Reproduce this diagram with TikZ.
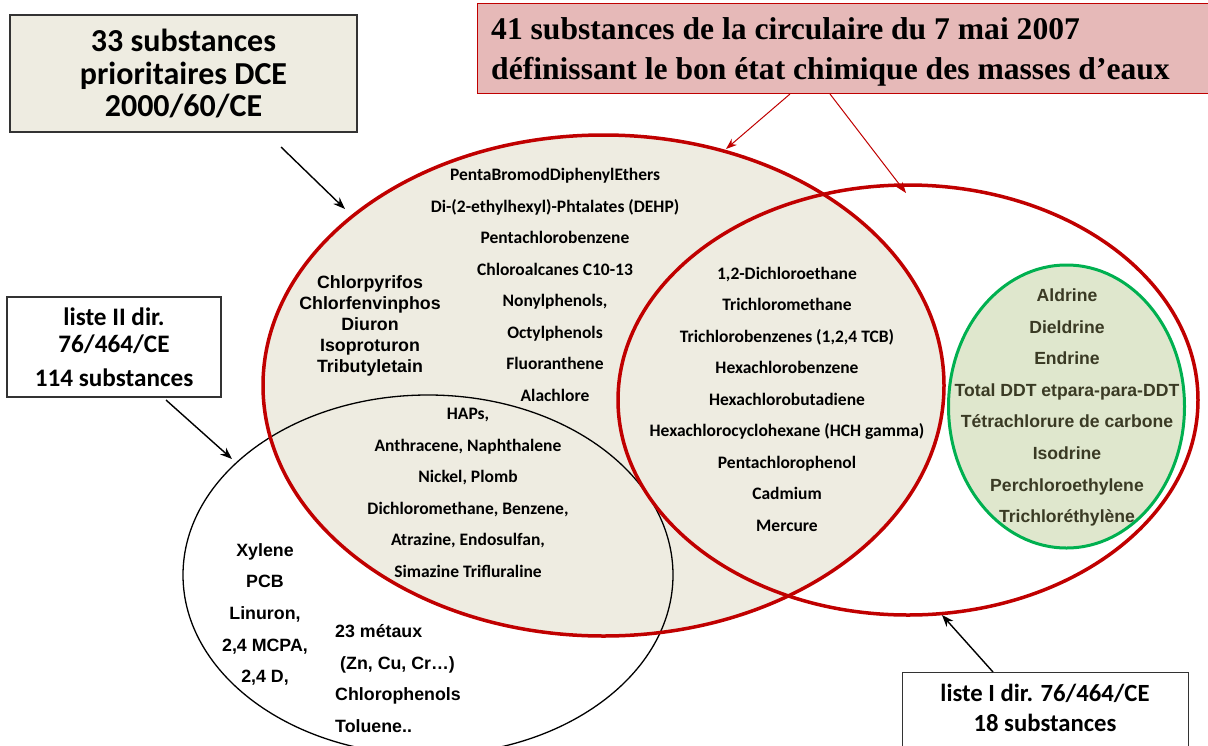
\documentclass[tikz,border=0pt]{standalone}
\usepackage{fontspec}
\setmainfont{Carlito}
\newfontfamily\arialf{Liberation Sans}
\newfontfamily\timesf{Liberation Serif}
\usetikzlibrary{arrows.meta}
\definecolor{beige}{HTML}{EEECE1}
\definecolor{dred}{HTML}{C00000}
\definecolor{pinkf}{HTML}{E6B9B8}
\definecolor{gfill}{HTML}{DFE7CD}
\definecolor{gline}{HTML}{00B050}
\definecolor{gtext}{HTML}{3A3A24}
\tikzset{
  calib/.style={font=\bfseries\fontsize{17.5}{31.5}\selectfont, align=center, inner sep=0pt},
  arialb/.style={font=\arialf\bfseries\fontsize{17.8}{31.7}\selectfont, align=center, inner sep=0pt},
  labelbox/.style={draw=black!80, line width=1.3pt, inner sep=0pt, align=center},
  blackarrow/.style={draw=black, line width=1.4pt, -{Stealth[length=12pt,width=9pt]}},
  redarrow/.style={draw=dred, line width=1pt, -{Stealth[length=11pt,width=8pt]}},
  redring/.style={draw=dred, line width=3.5pt},
}
\begin{document}
\begin{tikzpicture}[x=1pt,y=-1pt]
\useasboundingbox (0,0) rectangle (1208,745);
\fill[white] (0,0) rectangle (1208,745);
% sets
\fill[beige] (603.5,385.5) ellipse [x radius=340.5pt, y radius=250.5pt];
\draw[black, line width=1.3pt] (428,575) ellipse [x radius=245pt, y radius=180pt];
\draw[redring] (603.5,385.5) ellipse [x radius=340.5pt, y radius=250.5pt];
\draw[redring] (908,400) ellipse [x radius=290pt, y radius=215pt];
\filldraw[fill=gfill, draw=gline, line width=3pt] (1066.5,406.5) ellipse [x radius=118pt, y radius=141.5pt];

% boxes
\node[labelbox, fill=beige, minimum width=347pt, minimum height=117pt,
      font=\bfseries\fontsize{32}{32.5}\selectfont] (dce) at (183.5,73.5)
      {33 substances\\prioritaires DCE\\2000/60/CE};
\node[draw=dred, line width=1.3pt, fill=pinkf, minimum width=740pt, minimum height=90pt, inner sep=0pt, anchor=north west] (circ) at (477,3) {};
\node[font=\timesf\bfseries\fontsize{31.6}{39.5}\selectfont, align=left, inner sep=0pt, anchor=west] (circtxt) at (491,52)
      {41 substances de la circulaire du 7 mai 2007\\d\'efinissant le bon \'etat chimique des masses d’eaux};
\node[labelbox, fill=white, minimum width=214pt, minimum height=100pt,
      font=\bfseries\fontsize{25.2}{27}\selectfont] (l2) at (114,347)
      {liste II dir.\\76/464/CE\\[7pt]114 substances};
\node[labelbox, fill=white, minimum width=286pt, minimum height=75pt, anchor=north west] (l1) at (902,672)
      {};
\node[font=\bfseries\fontsize{24.7}{30}\selectfont, align=center, inner sep=0pt] (l1txt) at (1045,708)
      {liste I dir. 76/464/CE\\18 substances};

% text lists
\node[calib] (dcelist) at (555,285)
  {PentaBromodDiphenylEthers\\Di-(2-ethylhexyl)-Phtalates (DEHP)\\Pentachlorobenzene\\Chloroalcanes C10-13\\Nonylphenols,\\Octylphenols\\Fluoranthene\\Alachlore};
\node[arialb, font=\arialf\bfseries\fontsize{17.8}{21}\selectfont] (pest) at (370,326)
  {Chlorpyrifos\\Chlorfenvinphos\\Diuron\\Isoproturon\\Tributyletain};
\node[calib] (common) at (787,399)
  {1,2-Dichloroethane\\Trichloromethane\\Trichlorobenzenes (1,2,4 TCB)\\Hexachlorobenzene\\Hexachlorobutadiene\\Hexachlorocyclohexane (HCH gamma)\\Pentachlorophenol\\Cadmium\\Mercure};
\node[arialb, text=gtext, font=\arialf\bfseries\fontsize{17.6}{31.6}\selectfont] (green) at (1067,407.5)
  {Aldrine\\Dieldrine\\Endrine\\Total DDT etpara-para-DDT\\T\'etrachlorure de carbone\\Isodrine\\Perchloroethylene\\Trichlor\'ethyl\`ene};
\node[calib] (haps) at (468,493)
  {HAPs,\\Anthracene, Naphthalene\\Nickel, Plomb\\Dichloromethane, Benzene,\\Atrazine, Endosulfan,\\Simazine Trifluraline};
\node[arialb] (xyl) at (265,614.5)
  {Xylene\\PCB\\Linuron,\\2,4 MCPA,\\2,4 D,};
\node[arialb, align=left, anchor=west] (met) at (335,678.5)
  {23 m\'etaux\\\hspace*{5pt}(Zn, Cu, Cr…)\\Chlorophenols\\Toluene..};

% arrows
\coordinate (a1s) at (281,147);  \coordinate (a1e) at (345,209);
\coordinate (a2s) at (166,400);  \coordinate (a2e) at (232,459);
\coordinate (a3s) at (993,672);  \coordinate (a3e) at (942,615);
\coordinate (r1s) at (790,94);   \coordinate (r1e) at (726,149);
\coordinate (r2s) at (830,94);   \coordinate (r2e) at (906,193);
\draw[blackarrow] (a1s) -- (a1e);
\draw[blackarrow] (a2s) -- (a2e);
\draw[blackarrow] (a3s) -- (a3e);
\draw[redarrow] (r1s) -- (r1e);
\draw[redarrow] (r2s) -- (r2e);
\end{tikzpicture}
\end{document}
